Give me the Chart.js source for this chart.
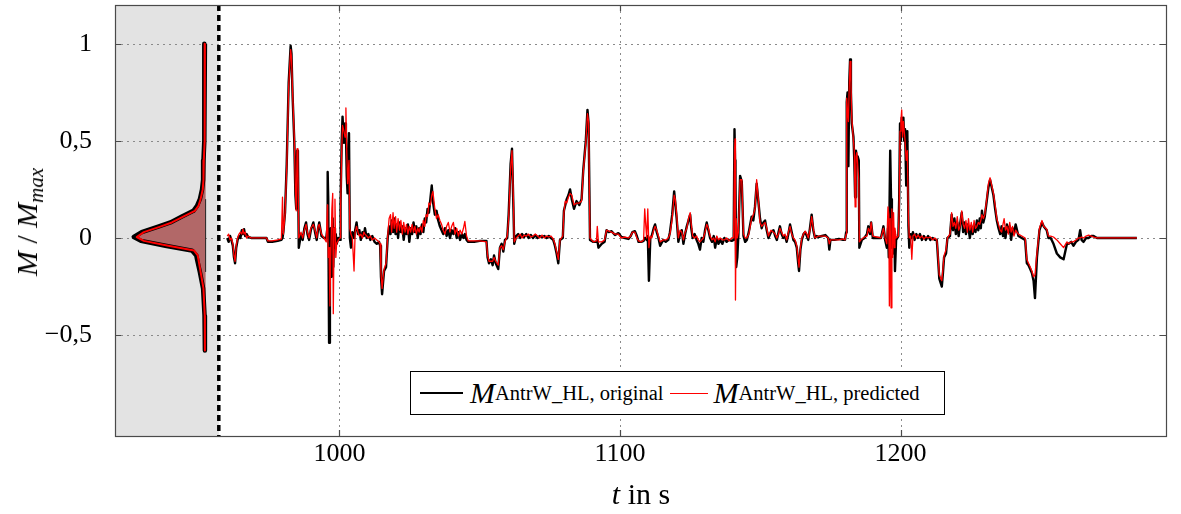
<!DOCTYPE html>
<html>
<head>
<meta charset="utf-8">
<script src="https://cdn.jsdelivr.net/npm/chart.js@4.4.1/dist/chart.umd.min.js"></script>
<style>
  html, body { margin: 0; padding: 0; background: #fff; }
  #wrap { position: relative; width: 1181px; height: 514px; font-family: "Liberation Serif", "Times New Roman", serif; color: #000; }
  #chart { position: absolute; left: 0; top: 0; }
  .ylab { position: absolute; left: 27px; top: 222px; transform: translate(-50%, -50%) rotate(-90deg); font-size: 30px; white-space: nowrap; }
  .xlab { position: absolute; left: 641px; top: 494px; transform: translate(-50%, -50%); font-size: 30px; white-space: nowrap; }
  .ylab sub, .xlab sub { font-size: 21px; vertical-align: -6px; line-height: 0; }
  .legend { position: absolute; left: 410px; top: 371px; width: 535px; height: 44px; box-sizing: border-box; border: 1px solid #000; background: #fff;
            display: flex; align-items: center; padding-left: 9px; font-size: 30px; white-space: nowrap; }
  .legend sub { font-size: 20.5px; vertical-align: -6px; line-height: 0; }
  .sw { display: inline-block; width: 43px; height: 0; margin-right: 7px; }
  .sw.k { border-top: 2px solid #000; }
  .sw.r { border-top: 1px solid #f00; width: 38px; margin-left: 6px; margin-right: 6px; }
  i { font-style: italic; }
</style>
</head>
<body>
<div id="wrap">
  <canvas id="chart" width="1181" height="514"></canvas>
  <div class="ylab"><i>M</i> / <i>M</i><sub><i>max</i></sub></div>
  <div class="xlab"><i>t</i> in s</div>
  <div class="legend">
    <span class="sw k"></span><i>M</i><sub>AntrW_HL, original</sub>
    <span class="sw r"></span><i>M</i><sub>AntrW_HL, predicted</sub>
  </div>
</div>
<script>
// axis ranges / ticks
const xMin = 920, xMax = 1294.6, yMin = -1.02, yMax = 1.2;
const xTicks = [1000, 1100, 1200];
const yTicks = [-0.5, 0, 0.5, 1];

// shaded distribution panel: ends at the dashed line, density drawn leftwards from kdeBase
const shadeEnd = 957.0;
const kdeBase = 952.3, kdeWidth = 25.6;
const kdeLevels    = [1.0, 0.8, 0.6, 0.5, 0.4, 0.3, 0.25, 0.2, 0.165, 0.14, 0.11, 0.08, 0.06, 0.03, 0.005, -0.015, -0.04, -0.065, -0.09, -0.11, -0.175, -0.26, -0.4, -0.58];
const kdeOriginal  = [0.01, 0.015, 0.02, 0.02, 0.03, 0.035, 0.05, 0.08, 0.12, 0.17, 0.33, 0.49, 0.65, 0.89, 1.0, 0.9, 0.56, 0.19, 0.13, 0.12, 0.08, 0.035, 0.015, 0.01];
const kdePredicted = [0.01, 0.01, 0.015, 0.015, 0.025, 0.03, 0.04, 0.07, 0.10, 0.15, 0.31, 0.47, 0.62, 0.86, 0.96, 0.86, 0.52, 0.16, 0.11, 0.10, 0.07, 0.03, 0.012, 0.01];

// time series (t in s, M/Mmax)
const times = [
  960.0,960.5,961.0,961.5,962.0,962.4,962.8,963.2,963.7,964.2,
  964.7,965.2,965.6,966.0,966.4,966.9,967.5,968.5,970,972,
  974,974.5,976,978,979.3,979.7,980.0,980.6,981.2,981.9,
  982.6,982.9,983.3,983.9,984.3,984.6,984.9,985.2,985.5,986.3,
  986.9,987.5,988.1,988.6,989.2,989.8,990.7,991.3,991.9,992.4,
  992.8,993.6,994.5,995.3,995.7,995.8,996.0,996.3,996.6,996.9,
  997.3,997.6,997.8,998.1,998.4,998.7,999.0,999.6,1000.2,1000.4,
  1000.8,1001.1,1001.6,1002.0,1002.3,1002.6,1002.9,1003.4,1003.7,1004.1,
  1004.6,1005.2,1005.6,1006.1,1006.6,1007.1,1007.6,1008.2,1008.7,1009.1,
  1009.7,1010.3,1011.0,1011.7,1012.5,1013.3,1014.1,1014.5,1014.8,1015.2,
  1015.6,1015.9,1016.6,1017.2,1017.7,1018.2,1018.6,1019.1,1019.5,1020.0,
  1020.4,1020.9,1021.4,1021.9,1022.4,1022.9,1023.4,1023.9,1024.4,1024.9,
  1025.4,1025.9,1026.4,1026.9,1027.4,1027.9,1028.4,1028.9,1029.4,1029.9,
  1030.4,1030.9,1031.4,1031.9,1032.4,1032.9,1033.3,1034.0,1034.6,1035.2,
  1035.8,1036.4,1037.0,1037.6,1038.2,1038.8,1039.4,1040.0,1040.6,1041.2,
  1041.8,1042.4,1043.0,1043.6,1044.2,1044.7,1045.3,1045.9,1048.0,1050.0,
  1052.4,1052.8,1053.3,1054.0,1054.6,1055.1,1055.7,1056.6,1057.2,1057.8,
  1058.4,1059.0,1059.8,1060.3,1061.0,1061.5,1062.0,1062.3,1063.0,1063.7,
  1064.4,1065.1,1065.8,1066.6,1067.4,1068.2,1069.0,1069.8,1070.6,1071.4,
  1072.2,1073.0,1073.8,1074.6,1075.4,1076.2,1076.8,1077.4,1078.0,1078.6,
  1079.6,1080.0,1080.5,1081.0,1081.6,1082.2,1082.8,1083.6,1084.5,1085.5,
  1086.3,1086.9,1087.8,1088.4,1088.8,1089.3,1090.5,1091.6,1091.9,1092.3,
  1093.5,1094.5,1095.2,1096.0,1097.0,1098.2,1099.4,1100.5,1101.8,1103.0,
  1103.8,1104.4,1105.3,1106.0,1106.6,1107.6,1108.4,1108.8,1109.2,1109.5,
  1109.9,1110.3,1110.8,1111.3,1112.0,1112.5,1113.1,1113.7,1114.3,1115.4,
  1116.3,1117.2,1117.8,1118.6,1119.3,1119.7,1120.2,1120.8,1121.4,1122.0,
  1122.6,1123.2,1123.8,1124.4,1125.0,1125.4,1125.9,1126.6,1127.3,1127.9,
  1128.5,1129.1,1129.7,1130.3,1130.9,1131.5,1132.1,1132.8,1133.4,1133.9,
  1134.5,1135.1,1135.7,1136.5,1137.2,1138.0,1138.8,1139.8,1140.5,1140.8,
  1141.0,1141.15,1141.4,1141.8,1142.2,1142.8,1143.4,1144.0,1144.6,1145.2,
  1145.9,1146.9,1147.5,1148.1,1148.7,1149.3,1149.9,1150.5,1151.1,1151.7,
  1152.3,1152.9,1153.8,1154.7,1155.3,1155.9,1156.5,1157.0,1157.6,1158.2,
  1158.8,1159.4,1160.0,1160.6,1161.2,1161.8,1162.4,1163.0,1163.5,1163.8,
  1164.3,1164.8,1165.4,1166.0,1166.6,1167.1,1167.7,1168.3,1168.9,1169.5,
  1170.1,1170.7,1172.0,1173.2,1174.2,1174.6,1175.0,1176.5,1178.0,1179.5,
  1180.2,1180.6,1180.8,1181.1,1181.4,1181.7,1182.0,1182.3,1182.6,1183.2,
  1183.5,1183.8,1184.1,1184.4,1184.7,1185.1,1185.3,1186.2,1187.1,1188.0,
  1188.5,1189.1,1189.5,1190.1,1191.5,1193.0,1193.9,1194.5,1195.1,1195.5,
  1195.8,1196.0,1196.3,1196.6,1196.9,1197.2,1197.5,1197.8,1198.0,1198.4,
  1199.2,1199.5,1199.8,1200.1,1200.4,1200.7,1201.0,1201.3,1201.6,1202.0,
  1202.4,1202.8,1203.1,1203.6,1204.0,1204.4,1205.0,1205.6,1206.2,1206.9,
  1207.6,1208.3,1209.0,1209.8,1210.6,1211.4,1212.2,1212.9,1213.1,1213.8,
  1214.7,1215.1,1215.5,1216.2,1216.7,1217.6,1218.2,1218.7,1219.2,1219.7,
  1220.2,1220.7,1221.2,1221.8,1222.3,1222.8,1223.3,1223.8,1224.2,1224.7,
  1225.2,1225.7,1226.2,1226.7,1227.2,1227.7,1228.2,1228.6,1229.0,1229.5,
  1230.0,1230.7,1231.3,1231.9,1232.5,1233.1,1233.7,1234.3,1234.9,1235.5,
  1236.0,1236.5,1236.9,1237.4,1237.9,1238.4,1238.9,1239.4,1239.9,1240.4,
  1241.0,1242.0,1243.2,1244.4,1245.0,1245.6,1246.2,1246.8,1247.4,1247.9,
  1248.6,1249.5,1250.4,1251.0,1252.1,1252.7,1253.5,1254.5,1255.7,1256.9,
  1258.1,1259.3,1259.9,1260.8,1261.6,1262.5,1263.4,1264.0,1264.5,1265.2,
  1266.1,1267.0,1268.0,1268.8,1270.0,1284.2
];
const original = [
  0.0,-0.02,0.01,-0.01,-0.04,-0.10,-0.13,-0.05,-0.01,0.01,
  0.0,0.04,0.02,0.045,0.01,0.02,0.005,0.0,0.0,0.0,
  0.0,-0.02,-0.02,-0.015,-0.01,0.0,0.03,0.13,0.38,0.80,
  0.99,0.95,0.73,0.50,0.22,0.15,0.45,0.42,-0.05,0.02,
  -0.01,0.05,0.08,0.02,-0.01,0.04,0.08,0.03,-0.01,0.05,
  0.08,0.01,0.0,0.0,0.05,0.34,0.20,-0.54,-0.10,0.05,
  -0.20,0.10,-0.15,0.05,-0.05,0.02,-0.03,0.0,-0.01,0.18,
  0.50,0.625,0.49,0.59,0.55,0.32,0.23,0.54,0.0,-0.05,
  0.03,0.0,0.04,0.08,0.02,0.04,-0.01,0.03,0.01,0.05,
  0.0,0.02,-0.01,0.01,-0.02,-0.03,-0.02,-0.04,-0.20,-0.29,
  -0.22,-0.17,-0.15,0.0,0.06,0.02,0.09,0.03,0.10,0.02,
  0.07,0.0,0.08,0.03,0.06,-0.01,0.05,0.02,0.07,-0.02,
  0.05,0.02,0.08,0.03,0.06,0.0,0.05,0.02,0.07,0.03,
  0.10,0.08,0.15,0.13,0.20,0.27,0.19,0.12,0.14,0.09,
  0.06,0.04,0.02,0.05,0.01,0.04,0.0,0.04,0.02,0.05,
  0.0,0.03,-0.01,0.02,0.0,0.02,-0.01,-0.02,-0.02,-0.015,
  -0.015,-0.10,-0.13,-0.11,-0.14,-0.09,-0.13,-0.16,-0.05,-0.03,
  -0.07,-0.01,0.0,0.12,0.38,0.46,0.16,-0.03,0.01,0.02,
  0.0,0.02,0.005,0.02,0.0,0.015,0.0,0.015,0.0,0.01,
  0.005,0.01,0.0,0.01,0.0,-0.01,-0.04,-0.08,-0.13,-0.01,
  0.0,0.14,0.17,0.20,0.22,0.25,0.20,0.15,0.19,0.17,
  0.20,0.35,0.50,0.66,0.59,-0.01,-0.02,-0.02,-0.01,-0.05,
  -0.03,-0.02,0.04,0.03,0.035,0.015,0.025,0.005,0.0,-0.005,
  0.01,0.03,0.035,0.01,-0.02,-0.02,-0.015,0.0,0.0,-0.01,
  0.01,-0.22,0.0,0.01,0.05,0.07,0.03,0.0,-0.04,-0.01,
  -0.02,-0.01,0.03,0.12,0.24,0.18,0.10,-0.02,0.02,0.04,
  -0.03,0.02,0.06,0.09,0.12,0.05,0.0,0.02,-0.01,-0.03,
  -0.06,0.0,-0.02,0.04,0.08,0.04,0.0,-0.02,0.01,-0.05,
  0.0,-0.03,-0.01,-0.03,0.0,-0.02,-0.01,-0.015,-0.01,0.56,
  0.40,0.30,-0.15,-0.10,0.02,0.32,0.29,0.01,-0.02,-0.01,
  0.03,0.11,0.09,0.16,0.28,0.19,0.10,0.05,0.08,0.09,
  0.04,0.0,0.03,0.04,0.01,-0.01,0.03,0.06,0.02,0.0,
  0.01,-0.02,0.02,0.07,0.03,-0.01,-0.02,-0.05,-0.13,-0.17,
  -0.06,-0.01,0.02,0.03,0.01,-0.01,0.05,0.12,0.04,0.0,
  0.01,0.005,0.01,0.015,0.0,-0.06,-0.01,-0.01,-0.005,-0.01,
  -0.01,0.03,0.70,0.75,0.37,0.80,0.92,0.75,0.59,0.52,
  0.40,0.21,0.45,0.40,0.42,0.40,-0.05,-0.01,0.0,0.02,
  0.06,0.02,0.08,0.0,0.0,0.0,0.06,-0.01,-0.05,0.05,
  -0.10,0.10,0.45,0.20,-0.05,0.05,-0.08,0.02,-0.17,-0.01,
  0.01,0.20,0.59,0.50,0.62,0.55,0.62,0.50,0.56,0.27,
  0.55,0.06,-0.05,0.02,0.0,0.03,-0.01,0.02,0.0,0.02,
  -0.01,0.01,-0.01,0.01,-0.01,0.0,-0.01,-0.01,-0.05,-0.21,
  -0.25,-0.18,-0.10,-0.08,0.0,0.01,0.12,0.04,0.10,0.02,
  0.08,0.01,0.07,0.13,0.03,0.08,0.02,0.07,0.05,0.0,
  0.06,0.02,0.07,0.03,0.09,0.04,0.10,0.05,0.14,0.08,
  0.11,0.19,0.26,0.30,0.26,0.22,0.15,0.09,0.05,0.02,
  0.06,0.01,0.05,0.0,0.07,0.03,0.06,-0.01,0.05,0.02,
  0.07,0.01,0.0,-0.01,-0.13,-0.14,-0.16,-0.18,-0.22,-0.31,
  -0.10,0.04,0.08,0.06,0.04,0.0,0.0,-0.03,-0.08,-0.10,
  -0.11,-0.03,-0.03,-0.02,-0.04,-0.02,-0.01,0.04,-0.01,-0.02,
  0.0,0.0,0.01,0.01,0.0,0.0
];
const predicted = [
  0.01,0.02,-0.01,0.0,-0.03,-0.09,-0.12,-0.04,0.0,0.02,
  0.03,0.02,0.045,0.02,0.03,0.0,0.01,0.0,0.0,0.0,
  0.0,-0.015,-0.015,-0.01,-0.005,0.21,0.02,0.12,0.36,0.78,
  0.97,0.93,0.75,0.52,0.25,0.14,0.46,0.36,0.0,0.03,
  0.0,0.04,0.07,0.03,0.0,0.05,0.07,0.04,0.0,0.06,
  0.07,0.02,0.0,-0.02,0.17,0.10,-0.10,-0.05,-0.35,-0.10,
  0.15,0.23,-0.39,0.05,0.20,-0.10,-0.03,-0.01,0.0,0.15,
  0.45,0.58,0.55,0.52,0.67,0.45,0.28,0.40,0.05,0.02,
  0.0,-0.17,0.03,0.06,0.03,0.01,0.02,0.0,0.03,0.02,
  0.01,0.0,0.01,-0.01,0.0,-0.01,-0.02,-0.03,-0.18,-0.26,
  -0.20,-0.16,-0.13,0.01,0.10,0.12,0.03,0.13,0.05,0.11,
  0.03,0.10,0.04,0.09,0.02,0.08,0.03,0.07,0.02,0.06,
  0.03,0.07,0.03,0.06,0.02,0.05,0.03,0.06,0.03,0.09,
  0.06,0.12,0.11,0.18,0.17,0.22,0.24,0.15,0.10,0.12,
  0.09,0.07,0.04,0.02,0.06,0.08,0.03,0.06,0.08,0.02,
  0.05,0.01,0.04,0.02,0.05,0.085,0.01,-0.015,-0.015,-0.015,
  -0.02,-0.09,-0.12,-0.12,-0.12,-0.10,-0.12,-0.14,-0.05,-0.04,
  -0.06,-0.02,0.01,0.10,0.36,0.45,0.20,-0.02,0.0,0.01,
  0.02,0.0,0.015,0.01,0.02,0.005,0.01,0.02,0.01,0.0,
  0.015,0.0,0.01,0.005,0.01,-0.005,-0.03,-0.07,-0.11,-0.01,
  0.01,0.13,0.19,0.18,0.21,0.23,0.22,0.17,0.18,0.18,
  0.19,0.34,0.49,0.64,0.60,0.0,-0.02,-0.015,0.06,-0.02,
  -0.02,-0.01,0.04,0.035,0.03,0.02,0.02,0.0,0.005,0.0,
  0.01,0.03,0.03,0.0,-0.015,-0.02,-0.01,0.15,0.06,0.0,
  0.15,-0.05,0.01,0.0,0.04,0.06,0.04,0.01,-0.02,-0.01,
  -0.01,0.0,0.02,0.10,0.22,0.20,0.12,0.0,0.04,0.03,
  -0.01,0.03,0.05,0.10,0.13,0.07,0.01,0.0,0.01,-0.01,
  -0.02,-0.01,0.0,0.03,0.07,0.05,0.01,-0.01,0.0,-0.02,
  0.01,-0.01,0.0,-0.01,-0.01,0.0,-0.015,0.0,0.0,0.45,
  0.51,-0.32,0.10,0.0,0.03,0.30,0.30,0.02,0.0,0.0,
  0.02,0.10,0.12,0.15,0.30,0.20,0.08,0.06,0.07,0.08,
  0.05,0.01,0.04,0.03,0.02,0.0,0.02,0.05,0.03,0.01,
  0.02,-0.01,0.03,0.06,0.02,0.0,-0.01,-0.04,-0.11,-0.15,
  -0.05,0.0,0.02,0.035,0.02,0.0,0.04,0.11,0.05,0.0,
  0.005,0.01,0.01,0.01,0.0,-0.03,-0.01,-0.01,-0.01,-0.005,
  -0.01,0.02,0.72,0.65,0.60,0.78,0.91,0.80,0.62,0.50,
  0.45,0.16,0.42,0.44,0.38,0.30,-0.02,-0.005,0.005,0.01,
  0.05,0.03,0.08,0.01,0.005,0.0,0.05,0.0,-0.03,0.16,
  0.12,-0.35,0.10,-0.36,0.15,-0.10,0.13,-0.05,0.05,0.0,
  0.01,0.15,0.55,0.60,0.66,0.52,0.60,0.55,0.50,0.40,
  0.45,0.10,0.0,0.01,-0.11,0.01,0.02,0.0,0.015,0.0,
  0.01,-0.005,0.005,0.0,0.005,-0.01,0.0,-0.01,-0.04,-0.19,
  -0.22,-0.16,-0.09,-0.06,0.0,0.02,0.13,0.06,0.08,0.05,
  0.11,0.04,0.06,0.14,0.07,0.05,0.09,0.03,0.10,0.04,
  0.08,0.03,0.09,0.05,0.06,0.08,0.07,0.09,0.12,0.10,
  0.12,0.20,0.28,0.31,0.27,0.23,0.17,0.10,0.07,0.04,
  0.03,0.07,0.10,0.04,0.06,0.02,0.08,0.03,0.06,0.01,
  0.04,0.02,0.01,0.0,-0.11,-0.13,-0.15,-0.17,-0.20,-0.19,
  -0.08,0.05,0.09,0.06,0.045,0.01,0.01,0.005,-0.01,-0.03,
  -0.05,-0.02,-0.03,-0.02,-0.02,-0.01,0.0,0.0,0.005,0.0,
  0.01,0.015,0.01,0.005,0.0,0.0
];

const FONT = "'Liberation Serif', 'Times New Roman', serif";
const n = Math.min(times.length, original.length, predicted.length);
const series = (vals) => times.slice(0, n).map((t, i) => ({ x: t, y: vals[i] }));
const kde = (dens) => kdeLevels.map((m, i) => ({ x: kdeBase - dens[i] * kdeWidth, y: m }));
const fmtY = (v) => (v === 0 ? "0" : (v < 0 ? "\u2212" : "") + String(Math.abs(v)).replace(".", ","));

const line = (data, color, width, order) => ({ data, borderColor: color, borderWidth: width, showLine: true, pointRadius: 0, tension: 0, order, borderJoinStyle: "round" });

/* gray panel, dotted grid, density fill (under the data) and dashed separator, frame, inward ticks (over it) */
const decor = {
  id: "decor",
  beforeDatasetsDraw(chart) {
    const { ctx, chartArea: a, scales: { x, y } } = chart;
    ctx.save();
    ctx.fillStyle = "#e3e3e3";
    ctx.fillRect(a.left, a.top, x.getPixelForValue(shadeEnd) - a.left, a.bottom - a.top);
    ctx.strokeStyle = "#8a8a8a"; ctx.lineWidth = 1; ctx.setLineDash([2, 4]);
    yTicks.forEach((v) => { const py = Math.round(y.getPixelForValue(v)) + 0.5; ctx.beginPath(); ctx.moveTo(a.left, py); ctx.lineTo(a.right, py); ctx.stroke(); });
    xTicks.forEach((v) => { const px = Math.round(x.getPixelForValue(v)) + 0.5; ctx.beginPath(); ctx.moveTo(px, a.top); ctx.lineTo(px, a.bottom); ctx.stroke(); });
    ctx.setLineDash([]);
    // density fill between curve and its baseline
    const bx = x.getPixelForValue(kdeBase);
    ctx.fillStyle = "rgb(178,104,104)";
    ctx.beginPath();
    ctx.moveTo(bx, y.getPixelForValue(kdeLevels[0]));
    kdeLevels.forEach((m, i) => ctx.lineTo(x.getPixelForValue(kdeBase - kdeOriginal[i] * kdeWidth), y.getPixelForValue(m)));
    ctx.lineTo(bx, y.getPixelForValue(kdeLevels[kdeLevels.length - 1]));
    ctx.closePath(); ctx.fill();
    const inside = kdeLevels.filter((m, i) => kdeOriginal[i] > 0.06);
    ctx.strokeStyle = "#222"; ctx.lineWidth = 1;
    ctx.beginPath(); ctx.moveTo(bx, y.getPixelForValue(Math.max(...inside))); ctx.lineTo(bx, y.getPixelForValue(Math.min(...inside))); ctx.stroke();
    ctx.restore();
  },
  afterDatasetsDraw(chart) {
    const { ctx, chartArea: a, scales: { x, y } } = chart;
    ctx.save();
    const dx = x.getPixelForValue(shadeEnd);
    ctx.strokeStyle = "#000"; ctx.lineWidth = 3.5; ctx.setLineDash([6, 4]);
    ctx.beginPath(); ctx.moveTo(dx, a.top); ctx.lineTo(dx, a.bottom); ctx.stroke();
    ctx.setLineDash([]);
    ctx.strokeStyle = "#4a4a4a"; ctx.lineWidth = 1.2;
    ctx.strokeRect(a.left + 0.5, a.top + 0.5, a.right - a.left, a.bottom - a.top);
    const tl = 6;
    ctx.beginPath();
    yTicks.forEach((v) => { const py = Math.round(y.getPixelForValue(v)) + 0.5; ctx.moveTo(a.left, py); ctx.lineTo(a.left + tl, py); ctx.moveTo(a.right, py); ctx.lineTo(a.right - tl, py); });
    xTicks.forEach((v) => { const px = Math.round(x.getPixelForValue(v)) + 0.5; ctx.moveTo(px, a.bottom); ctx.lineTo(px, a.bottom - tl); ctx.moveTo(px, a.top); ctx.lineTo(px, a.top + tl); });
    ctx.stroke();
    ctx.restore();
  }
};

new Chart(document.getElementById("chart"), {
  type: "scatter",
  data: { datasets: [
    line(kde(kdePredicted), "#ff0000", 2, 0),
    line(kde(kdeOriginal), "#000000", 4.5, 1),
    line(series(predicted), "#ff0000", 1.3, 2),
    line(series(original), "#000000", 2.4, 3),
  ] },
  options: {
    responsive: false, animation: false, maintainAspectRatio: false,
    layout: { padding: { left: 0, right: 15, top: 5, bottom: 0 } },
    plugins: { legend: { display: false }, tooltip: { enabled: false } },
    scales: {
      x: { type: "linear", min: xMin, max: xMax, grid: { display: false }, border: { display: false },
        afterBuildTicks: (s) => { s.ticks = xTicks.map((v) => ({ value: v })); },
        afterFit: (s) => { s.height = 78; s.paddingLeft = 0; s.paddingRight = 0; },
        ticks: { autoSkip: false, maxRotation: 0, padding: -5, color: "#000", font: { family: FONT, size: 26 }, callback: (v) => String(v) } },
      y: { type: "linear", min: yMin, max: yMax, grid: { display: false }, border: { display: false },
        afterBuildTicks: (s) => { s.ticks = yTicks.map((v) => ({ value: v })); },
        afterFit: (s) => { s.width = 115; s.paddingTop = 0; s.paddingBottom = 0; },
        ticks: { padding: 15, color: "#000", font: { family: FONT, size: 26 }, callback: fmtY } }
    }
  },
  plugins: [decor]
});
</script>
</body>
</html>
